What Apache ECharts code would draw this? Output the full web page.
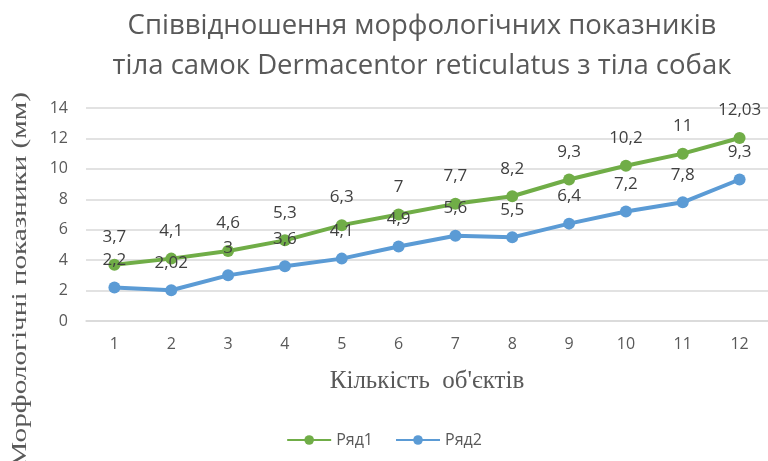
<!DOCTYPE html>
<html>
<head>
<meta charset="utf-8">
<script src="https://cdn.jsdelivr.net/npm/echarts@6/dist/echarts.min.js"></script>
<style>html,body{margin:0;padding:0;background:#fff}#c{width:768px;height:461px}</style>
</head>
<body>
<div id="c"></div>
<script>
const categories = ['1','2','3','4','5','6','7','8','9','10','11','12'];
const series1 = [3.7, 4.1, 4.6, 5.3, 6.3, 7, 7.7, 8.2, 9.3, 10.2, 11, 12.03];
const series2 = [2.2, 2.02, 3, 3.6, 4.1, 4.9, 5.6, 5.5, 6.4, 7.2, 7.8, 9.3];
const seriesNames = ['Ряд1', 'Ряд2'];
const titleText = 'Співвідношення морфологічних показників\nтіла самок Dermacentor reticulatus з тіла собак';
const xName = 'Кількість  об\'єктів';
const yName = 'Морфологічні показники (мм)';

const chart = echarts.init(document.getElementById('c'));
const fmt = p => String(p.value).replace('.', ',');
const mk = (name, data, color) => ({
  name, type: 'line', data,
  symbol: 'circle', symbolSize: 12,
  lineStyle: { color, width: 4 },
  itemStyle: { color },
  label: { show: true, position: 'top', distance: 13, formatter: fmt,
           color: '#404040', fontSize: 17, fontFamily: 'Open Sans' }
});
chart.setOption({
  animation: false,
  title: {
    text: titleText, left: 417, textAlign: 'center', top: 1,
    textStyle: { fontFamily: 'Open Sans', fontSize: 27.5, fontWeight: 'normal', color: '#595959', lineHeight: 40 }
  },
  legend: {
    data: seriesNames, bottom: 8, left: 'center', itemWidth: 44, itemHeight: 12, itemGap: 22,
    textStyle: { color: '#595959', fontSize: 16, fontFamily: 'Open Sans' }
  },
  grid: { left: 86, right: -3, top: 108, bottom: 140 },
  xAxis: {
    type: 'category', data: categories, boundaryGap: true,
    name: xName, nameLocation: 'middle', nameGap: 48,
    nameTextStyle: { fontFamily: 'Liberation Serif', fontSize: 25, color: '#595959' },
    axisLine: { lineStyle: { color: '#d9d9d9', width: 1.5 } },
    axisTick: { show: false },
    axisLabel: { color: '#595959', fontSize: 16, fontFamily: 'Open Sans', margin: 15 }
  },
  yAxis: {
    type: 'value', min: 0, max: 14, interval: 2,
    axisLine: { show: false }, axisTick: { show: false },
    splitLine: { lineStyle: { color: '#d9d9d9', width: 1.5 } },
    axisLabel: { color: '#595959', fontSize: 16, fontFamily: 'Open Sans', margin: 18 }
  },
  graphic: [{
    type: 'text', left: 10, top: 92, rotation: Math.PI / 2, scaleX: 1.39,
    style: { text: yName, fontFamily: 'Liberation Serif', fontSize: 21, fill: '#595959' }
  }],
  series: [mk(seriesNames[0], series1, '#70AD47'), mk(seriesNames[1], series2, '#5B9BD5')]
});
</script>
</body>
</html>
